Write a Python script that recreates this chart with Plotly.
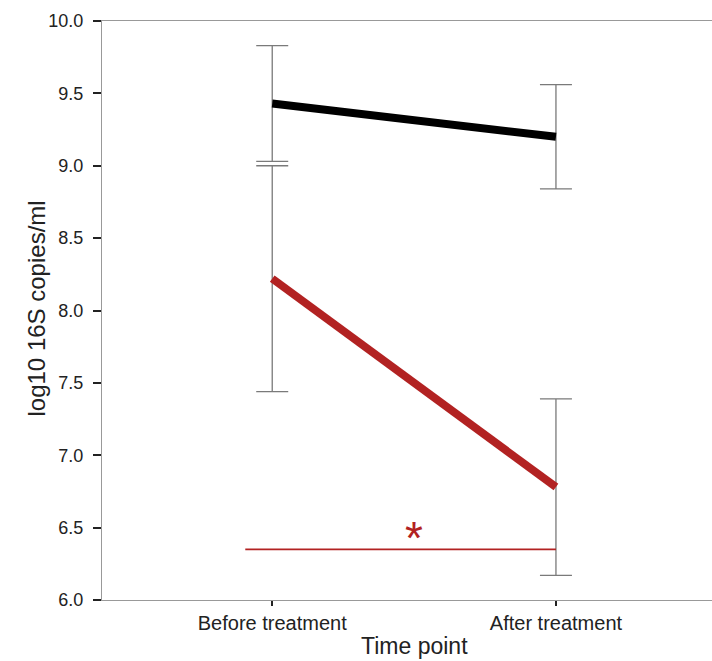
import plotly.graph_objects as go

categories = ["Before treatment", "After treatment"]
x_pos = [1, 2]
black_mean = [9.43, 9.20]
black_se = [0.40, 0.36]
red_mean = [8.22, 6.78]
red_se = [0.78, 0.61]
sig_x = [0.905, 2.0]
sig_y = [6.35, 6.35]
y_ticks = [6.0, 6.5, 7.0, 7.5, 8.0, 8.5, 9.0, 9.5, 10.0]

FONT = "Liberation Sans, Arial, sans-serif"
RED = "#B22222"
ERR = "#7a7a7a"
TXT = "#222222"

fig = go.Figure()
fig.add_trace(go.Scatter(
    x=x_pos, y=black_mean, mode="lines",
    line=dict(color="black", width=8),
    error_y=dict(type="data", array=black_se, color=ERR, thickness=1.3, width=16),
    showlegend=False, hoverinfo="skip"))
fig.add_trace(go.Scatter(
    x=x_pos, y=red_mean, mode="lines",
    line=dict(color=RED, width=8),
    error_y=dict(type="data", array=red_se, color=ERR, thickness=1.3, width=16),
    showlegend=False, hoverinfo="skip"))
fig.add_trace(go.Scatter(
    x=sig_x, y=sig_y, mode="lines",
    line=dict(color=RED, width=1.6),
    showlegend=False, hoverinfo="skip"))
fig.add_annotation(x=1.5, y=6.36, text="*", showarrow=False, yanchor="bottom",
                   font=dict(family=FONT, size=46, color=RED), yshift=-18)

# x-axis title centred on the category span (as in the original)
fig.add_annotation(x=1.5, xref="x", y=0, yref="paper", yanchor="top", yshift=-31,
                   text="Time point", showarrow=False,
                   font=dict(size=23, family=FONT, color=TXT))
# y-axis title
fig.add_annotation(x=0, xref="paper", xshift=-66, xanchor="center",
                   y=0.5, yref="paper", yshift=2, yanchor="middle",
                   text="log10 16S copies/ml", textangle=-90, showarrow=False,
                   font=dict(size=24, family=FONT, color=TXT))

fig.update_layout(
    width=712, height=661,
    margin=dict(l=102, r=0, t=21, b=61),
    paper_bgcolor="white", plot_bgcolor="white",
    font=dict(family=FONT, color=TXT),
    xaxis=dict(
        range=[0.4, 2.55], tickmode="array", tickvals=x_pos, ticktext=categories,
        showgrid=False, zeroline=False, showline=True, linecolor="#999999", linewidth=1.2,
        mirror=True, ticks="outside", ticklen=5, tickwidth=2, tickcolor=TXT,
        tickfont=dict(size=20, family=FONT, color=TXT),
    ),
    yaxis=dict(
        range=[6.0, 10.0], tickmode="array", tickvals=y_ticks,
        ticktext=[f"{v:.1f}" for v in y_ticks],
        showgrid=False, zeroline=False, showline=True, linecolor="#999999", linewidth=1.2,
        ticks="outside", ticklen=8, tickwidth=2, tickcolor=TXT, ticklabelstandoff=6,
        tickfont=dict(size=18, family=FONT, color=TXT),
    ),
)

fig.write_html("out.html")
